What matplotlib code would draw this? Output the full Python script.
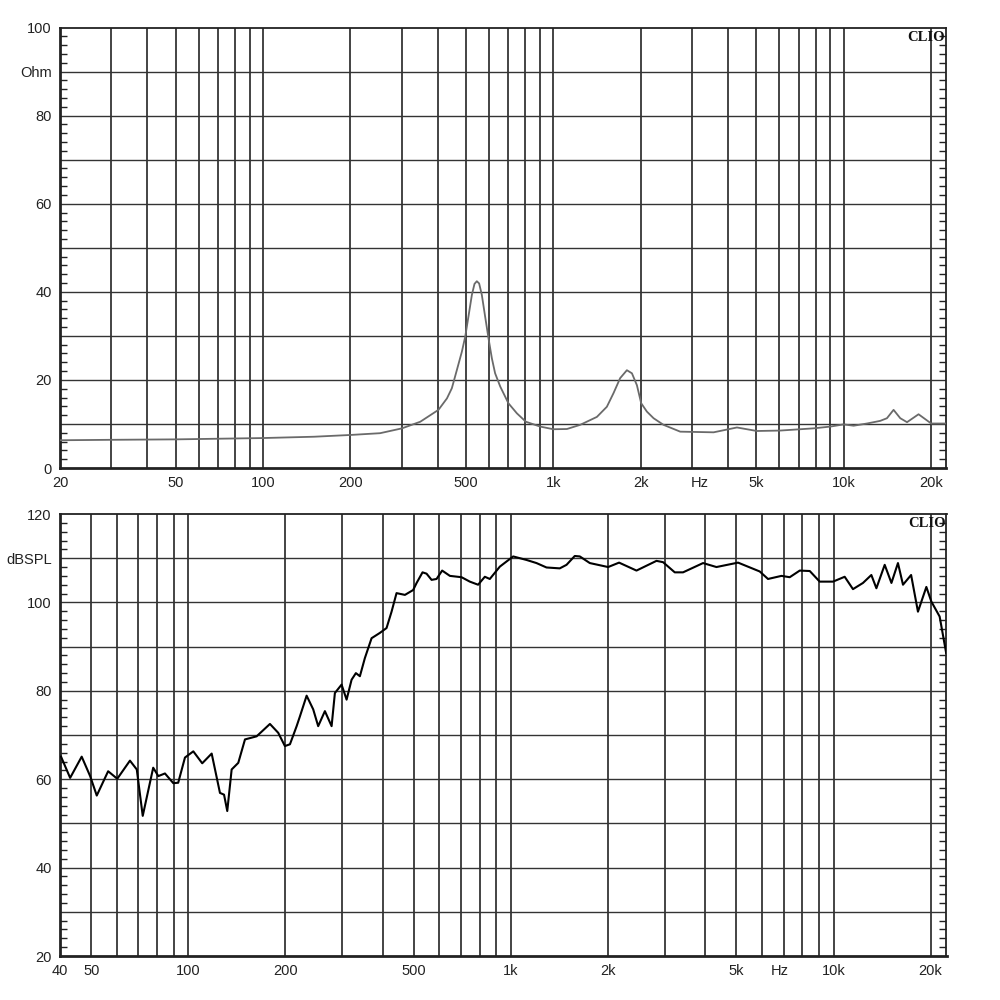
import matplotlib
matplotlib.use("Agg")
import matplotlib.pyplot as plt
from matplotlib.ticker import FixedLocator, MultipleLocator, NullFormatter

plt.rcParams['font.family'] = ['Liberation Sans', 'DejaVu Sans']

# ---------------- data ----------------
imp_freq = [20, 30, 50, 100, 150, 200, 253, 301, 348, 402, 430, 447, 465, 484, 497, 510,
            524, 535, 545, 555, 567, 582, 598, 614, 630, 656, 700, 749, 804, 901, 1000,
            1113, 1237, 1412, 1528, 1611, 1698, 1791, 1864, 1939, 2006, 2099, 2213, 2394,
            2734, 3562, 4286, 5022, 6042, 7868, 8984, 9986, 10810, 12020, 13350, 14080,
            14840, 15650, 16510, 18090, 20000, 22400]
imp_ohm = [6.3, 6.4, 6.5, 6.8, 7.1, 7.5, 7.9, 9.0, 10.5, 13.2, 15.8, 18.1, 22.2, 26.4, 29.8, 34.4,
           39.3, 41.8, 42.4, 41.9, 39.3, 34.4, 29.4, 24.9, 21.5, 18.5, 14.7, 12.4, 10.5, 9.4, 8.8,
           8.85, 9.8, 11.6, 13.9, 17.0, 20.4, 22.2, 21.5, 18.8, 14.7, 12.8, 11.3, 9.8,
           8.25, 8.1, 9.2, 8.4, 8.5, 9.0, 9.4, 9.9, 9.6, 10.1, 10.7, 11.3,
           13.2, 11.3, 10.4, 12.2, 10.1, 10.1]

spl_freq = [40.3, 43.0, 46.7, 49.6, 52.0, 56.4, 60.2, 65.9, 69.2, 72.2, 77.8, 80.7, 84.6, 89.8,
            93.0, 97.6, 103.6, 110.4, 118.1, 125.3, 129, 132.0, 136.2, 142.8, 149.8, 162.8,
            179, 189.9, 199.2, 206.5, 216.6, 221.7, 232.6, 243.8, 252.6, 265, 278, 284.6,
            298.5, 309.4, 320.6, 330.6, 340.2, 352.5, 369.8, 392.4, 411.5, 426.5, 441.9,
            469.2, 497.6, 510, 532, 547.5, 567.5, 588, 612, 646.8, 702.8, 745.6, 791, 830,
            860, 924, 1016, 1118, 1200, 1289, 1417, 1487, 1577, 1635, 1756, 2001, 2164,
            2450, 2826, 2962, 3220, 3416, 3941, 4336, 5059, 5905, 6265, 6896, 7316, 7858,
            8440, 9060, 9964, 10830, 11490, 12340, 13100, 13580, 14410, 15120, 15840,
            16420, 17400, 18270, 19400, 20100, 21330, 22340]
spl_db = [65.1, 60.3, 65.1, 60.7, 56.3, 61.8, 60.1, 64.2, 62.2, 51.7, 62.6, 60.7, 61.3, 59.1,
          59.2, 64.9, 66.3, 63.6, 65.8, 56.9, 56.5, 52.8, 62.2, 63.7, 69.0, 69.7,
          72.5, 70.5, 67.5, 67.9, 72.0, 74.2, 78.9, 75.8, 72.0, 75.4, 72.0, 79.5,
          81.4, 78.0, 82.5, 84.0, 83.3, 87.4, 91.9, 93.1, 94.2, 97.9, 102.1,
          101.7, 102.8, 104.4, 106.8, 106.5, 105.1, 105.3, 107.2, 106.0, 105.7, 104.7, 104.0, 105.8,
          105.3, 108.1, 110.4, 109.6, 108.9, 107.9, 107.7, 108.5, 110.5, 110.4, 108.9, 108.0, 109.0,
          107.2, 109.4, 109.1, 106.8, 106.8, 108.9, 108.0, 109.0, 107.0, 105.3, 106.0, 105.7, 107.2,
          107.1, 104.7, 104.7, 105.8, 103.0, 104.4, 106.2, 103.2, 108.5, 104.4, 108.9,
          104.0, 106.2, 97.9, 103.5, 100.2, 96.8, 88.6]

top_ticks = [20, 50, 100, 200, 500, 1000, 2000, 3200, 5000, 10000, 20000]
top_labels = ["20", "50", "100", "200", "500", "1k", "2k", "Hz", "5k", "10k", "20k"]
bot_ticks = [40, 50, 100, 200, 500, 1000, 2000, 5000, 6800, 10000, 20000]
bot_labels = ["40", "50", "100", "200", "500", "1k", "2k", "5k", "Hz", "10k", "20k"]

top_grid = [30, 40, 50, 60, 70, 80, 90, 100, 200, 300, 400, 500, 600, 700, 800, 900,
            1000, 2000, 3000, 4000, 5000, 6000, 7000, 8000, 9000, 10000, 20000]
bot_grid = [50, 60, 70, 80, 90, 100, 200, 300, 400, 500, 600, 700, 800, 900,
            1000, 2000, 3000, 4000, 5000, 6000, 7000, 8000, 9000, 10000, 20000]

top_yticks = [0, 10, 20, 30, 40, 50, 60, 70, 80, 90, 100]
top_ylabels = ["0", "", "20", "", "40", "", "60", "", "80", "Ohm", "100"]
bot_yticks = [20, 30, 40, 50, 60, 70, 80, 90, 100, 110, 120]
bot_ylabels = ["20", "", "40", "", "60", "", "80", "", "100", "dBSPL", "120"]

# ---------------- figure ----------------
fig = plt.figure(figsize=(10, 10), dpi=100)
fig.patch.set_facecolor("white")
ax1 = fig.add_axes([0.060, 0.532, 0.8855, 0.4405])
ax2 = fig.add_axes([0.060, 0.044, 0.8865, 0.442])


def style(ax, xlim, ylim, xt, xl, yt, yl, vgrid):
    ax.set_xscale("log")
    ax.set_xlim(*xlim)
    ax.set_ylim(*ylim)
    for f in vgrid:
        ax.axvline(f, color="#111111", lw=1.1, zorder=1)
    for v in yt[1:-1]:
        ax.axhline(v, color="#333333", lw=1.0, zorder=1)
    ax.xaxis.set_major_locator(FixedLocator(xt))
    ax.set_xticklabels(xl)
    ax.xaxis.set_minor_locator(FixedLocator([]))
    ax.xaxis.set_minor_formatter(NullFormatter())
    ax.yaxis.set_major_locator(FixedLocator(yt))
    ax.set_yticklabels(yl)
    ax.yaxis.set_minor_locator(MultipleLocator(2))
    ax.tick_params(axis="x", which="major", length=0, pad=6, labelsize=10.5, colors="#222222")
    ax.tick_params(axis="y", which="major", length=0, pad=6, labelsize=10.5, colors="#222222")
    ax.tick_params(axis="y", which="minor", direction="in", length=5, width=1,
                   left=True, right=True, color="#222222")
    for s in ["left", "bottom"]:
        ax.spines[s].set_linewidth(2.0)
        ax.spines[s].set_color("#222222")
    for s in ["top", "right"]:
        ax.spines[s].set_linewidth(1.3)
        ax.spines[s].set_color("#222222")
    ax.text(0.999, 0.993, "CLIO", transform=ax.transAxes, ha="right", va="top",
            fontsize=10.5, fontweight="bold", family=["Liberation Serif", "DejaVu Serif"],
            color="#111111", zorder=5)


style(ax1, (20, 22400), (0, 100), top_ticks, top_labels, top_yticks, top_ylabels, top_grid)
style(ax2, (40, 22400), (20, 120), bot_ticks, bot_labels, bot_yticks, bot_ylabels, bot_grid)

ax1.plot(imp_freq, imp_ohm, color="#6a6a6a", lw=1.3, zorder=3)
ax2.plot(spl_freq, spl_db, color="#000000", lw=1.5, zorder=3)

fig.savefig("out.png", dpi=100, facecolor="white")
